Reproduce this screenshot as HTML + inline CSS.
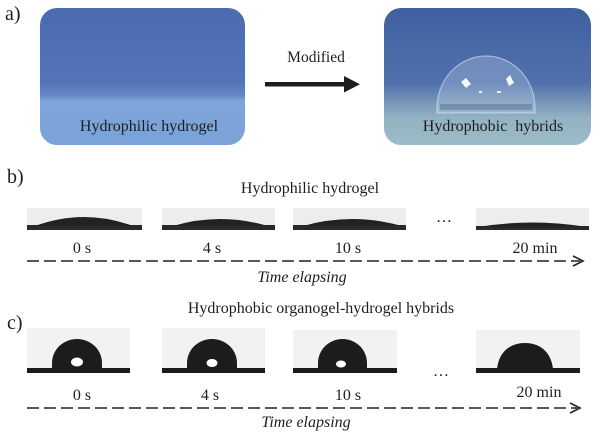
<!DOCTYPE html>
<html><head><meta charset="utf-8"><style>
html,body{margin:0;padding:0;background:#fff;}
svg{display:block;}
text{font-family:"Liberation Serif",serif;fill:#1e1e1e;}
</style></head><body>
<svg width="600" height="435" viewBox="0 0 600 435" xmlns="http://www.w3.org/2000/svg">
<defs>
<linearGradient id="gl" x1="0" y1="0" x2="0" y2="1">
<stop offset="0" stop-color="#4a6bb0"/>
<stop offset="0.55" stop-color="#5474b9"/>
<stop offset="0.64" stop-color="#6587c6"/>
<stop offset="0.68" stop-color="#7ea6db"/>
<stop offset="1" stop-color="#79a2d8"/>
</linearGradient>
<linearGradient id="gr" x1="0" y1="0" x2="0" y2="1">
<stop offset="0" stop-color="#3f60a0"/>
<stop offset="0.55" stop-color="#5171ad"/>
<stop offset="0.7" stop-color="#7b99b8"/>
<stop offset="0.8" stop-color="#92b1c2"/>
<stop offset="1" stop-color="#9dbcc9"/>
</linearGradient>
</defs>

<!-- panel a -->
<text x="5" y="20" font-size="20">a)</text>
<rect x="40" y="8" width="205" height="137" rx="17" fill="url(#gl)"/>
<text x="149" y="131" font-size="16" text-anchor="middle">Hydrophilic hydrogel</text>

<text x="316" y="62" font-size="15.5" text-anchor="middle">Modified</text>
<rect x="265" y="82" width="82" height="4.5" fill="#1e1e1e"/>
<polygon points="344,76 360,84.2 344,92.5" fill="#1e1e1e"/>

<rect x="384" y="8" width="207" height="137" rx="17" fill="url(#gr)"/>
<path d="M437,113 L437,108 A49,52 0 0 1 535,108 L535,113 Z" fill="rgba(205,222,238,0.28)" stroke="rgba(225,238,248,0.55)" stroke-width="1.2"/>
<rect x="440" y="104" width="92" height="6" fill="rgba(60,80,130,0.35)"/>
<polygon points="461,82 466,78 471,84 466,88" fill="#f4f8ff"/>
<polygon points="506,79 510,75 514,83 509,86" fill="#f4f8ff"/>
<rect x="479" y="91" width="3" height="2" fill="#e8f0ff"/>
<rect x="497" y="91" width="4" height="2" fill="#e8f0ff"/>
<text x="493" y="131" font-size="16" text-anchor="middle" xml:space="preserve">Hydrophobic  hybrids</text>

<!-- panel b -->
<text x="7" y="183" font-size="20">b)</text>
<text x="310" y="193" font-size="16" text-anchor="middle">Hydrophilic hydrogel</text>

<rect x="27" y="208" width="115" height="22" fill="#ededed"/>
<rect x="27" y="225" width="115" height="5" fill="#2a2a2a"/>
<path d="M35,226 Q84,208 133,226 Z" fill="#222"/>

<rect x="162" y="208" width="113" height="22" fill="#ededed"/>
<rect x="162" y="225" width="113" height="5" fill="#2a2a2a"/>
<path d="M173,226 Q220,212 268,226 Z" fill="#222"/>

<rect x="293" y="208" width="113" height="22" fill="#ededed"/>
<rect x="293" y="225" width="113" height="5" fill="#2a2a2a"/>
<path d="M303,226 Q352,212 402,226 Z" fill="#222"/>

<text x="444" y="222" font-size="16" text-anchor="middle">…</text>

<rect x="476" y="208" width="113" height="22" fill="#ededed"/>
<rect x="476" y="226" width="113" height="4" fill="#2a2a2a"/>
<path d="M478,227 Q532,218 587,227 Z" fill="#222"/>

<text x="82" y="253" font-size="16" text-anchor="middle">0 s</text>
<text x="212" y="253" font-size="16" text-anchor="middle">4 s</text>
<text x="348" y="253" font-size="16" text-anchor="middle">10 s</text>
<text x="535" y="253" font-size="16" text-anchor="middle">20 min</text>

<line x1="27" y1="261" x2="580" y2="261" stroke="#222" stroke-width="1.6" stroke-dasharray="12,5"/>
<polyline points="573,256 583,261 573,266" fill="none" stroke="#222" stroke-width="1.6"/>
<text x="302" y="282" font-size="16" font-style="italic" text-anchor="middle">Time elapsing</text>

<!-- panel c -->
<text x="321" y="313" font-size="16" text-anchor="middle">Hydrophobic organogel-hydrogel hybrids</text>
<text x="7" y="329" font-size="20">c)</text>

<rect x="27" y="328" width="103" height="45" fill="#f4f1f1"/>
<rect x="27" y="368" width="103" height="5" fill="#1c1c1c"/>
<path d="M52,369 L52,363 A25,24 0 0 1 102,363 L102,369 Z" fill="#1c1c1c"/>
<ellipse cx="77" cy="362" rx="6" ry="4.5" fill="#fff"/>

<rect x="162" y="328" width="103" height="45" fill="#f4f1f1"/>
<rect x="162" y="368" width="103" height="5" fill="#1c1c1c"/>
<path d="M187,369 L187,363 A25,24 0 0 1 237,363 L237,369 Z" fill="#1c1c1c"/>
<ellipse cx="212" cy="363" rx="5.5" ry="4" fill="#fff"/>

<rect x="293" y="330" width="104" height="43" fill="#f4f1f1"/>
<rect x="293" y="368" width="104" height="5" fill="#1c1c1c"/>
<path d="M318,369 L318,363 A24.5,24 0 0 1 367,363 L367,369 Z" fill="#1c1c1c"/>
<ellipse cx="341" cy="364" rx="5" ry="3.5" fill="#fff"/>

<text x="441" y="376" font-size="16" text-anchor="middle">…</text>

<rect x="476" y="330" width="104" height="43" fill="#f4f1f1"/>
<rect x="476" y="368" width="104" height="5" fill="#1c1c1c"/>
<path d="M497,369 C499,351 511,343 525,343 C539,343 551,351 553,369 Z" fill="#1c1c1c"/>

<text x="82" y="400" font-size="16" text-anchor="middle">0 s</text>
<text x="210" y="400" font-size="16" text-anchor="middle">4 s</text>
<text x="348" y="400" font-size="16" text-anchor="middle">10 s</text>
<text x="539" y="397" font-size="16" text-anchor="middle">20 min</text>

<line x1="27" y1="408" x2="577" y2="408" stroke="#222" stroke-width="1.6" stroke-dasharray="12,5"/>
<polyline points="570,403 580,408 570,413" fill="none" stroke="#222" stroke-width="1.6"/>
<text x="306" y="427" font-size="16" font-style="italic" text-anchor="middle">Time elapsing</text>
</svg>
</body></html>
